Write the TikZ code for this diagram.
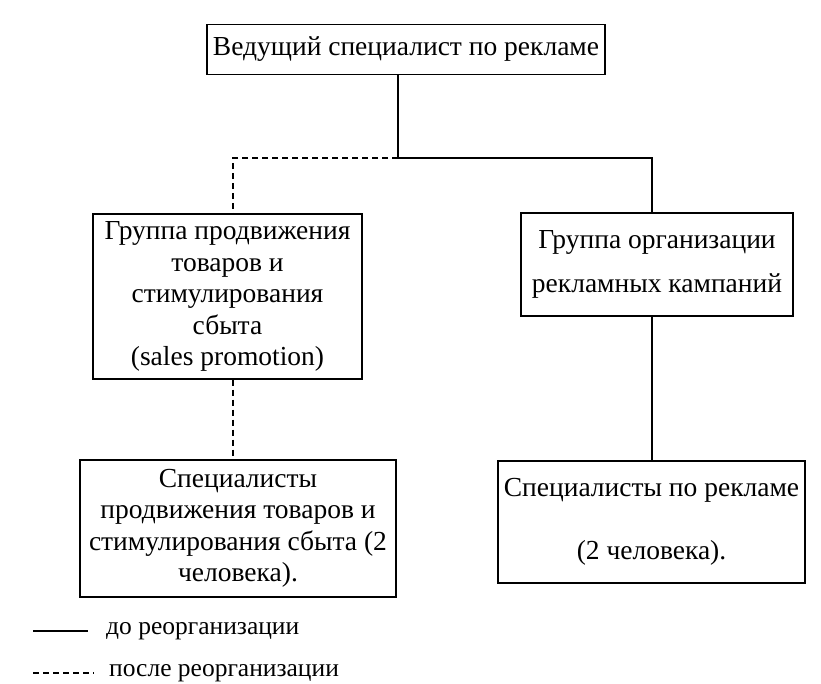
\documentclass[tikz,border=0pt]{standalone}
\usepackage{fontspec}
\setmainfont{Liberation Serif}
\usetikzlibrary{positioning}

\begin{document}
\begin{tikzpicture}[x=1pt,y=-1pt]
        \useasboundingbox (0,0) rectangle (821,684);
        \begin{scope}[every node/.style={draw,line width=1.4pt,align=center,inner sep=0pt,font=\fontsize{27.5}{31.5}\selectfont}]
          \node[minimum width=398pt,minimum height=50pt] (lead) at (406,49.5) {Ведущий специалист по рекламе};
          \node[minimum width=269pt,minimum height=165pt] (gp) at (227.5,296.5) {Группа продвижения\\товаров и\\стимулирования\\сбыта\\(sales promotion)};
          \node[minimum width=272pt,minimum height=103pt] (ga) at (657,264.5) {Группа организации\\[12pt]рекламных кампаний};
          \node[minimum width=316pt,minimum height=137pt] (sp) at (238,528.5) {Специалисты\\продвижения товаров и\\стимулирования сбыта (2\\человека).};
          \node[minimum width=307pt,minimum height=122pt] (sr) at (651.5,522) {Специалисты по рекламе\\[31pt](2 человека).};
        \end{scope}
        \coordinate (fork) at (398,158);
        \coordinate (lbr) at (233,158);
        \coordinate (rbr) at (652,158);
        \begin{scope}[line width=1.4pt]
          \draw (lead.south -| fork) -- (fork) -- (rbr) -- (rbr |- ga.north);
          \draw (rbr |- ga.south) -- (rbr |- sr.north);
          \draw[dash pattern=on 6pt off 4pt] (fork) -- (lbr) -- (lbr |- gp.north);
          \draw[dash pattern=on 6pt off 4pt] (lbr |- gp.south) -- (lbr |- sp.north);
        \end{scope}
        \begin{scope}[every node/.style={anchor=west,inner sep=0pt,font=\fontsize{25.5}{30}\selectfont}]
          \node (before) at (106,631) {до реорганизации};
          \node (after) at (109,673) {после реорганизации};
        \end{scope}
        \coordinate (k1) at (33,631);
        \coordinate (k2) at (33,673);
        \draw[line width=1.6pt,shorten >=18pt] (k1) -- (before.west);
        \draw[line width=1.6pt,dash pattern=on 6pt off 4pt,shorten >=15pt] (k2) -- (after.west);
      \end{tikzpicture}
\end{document}
